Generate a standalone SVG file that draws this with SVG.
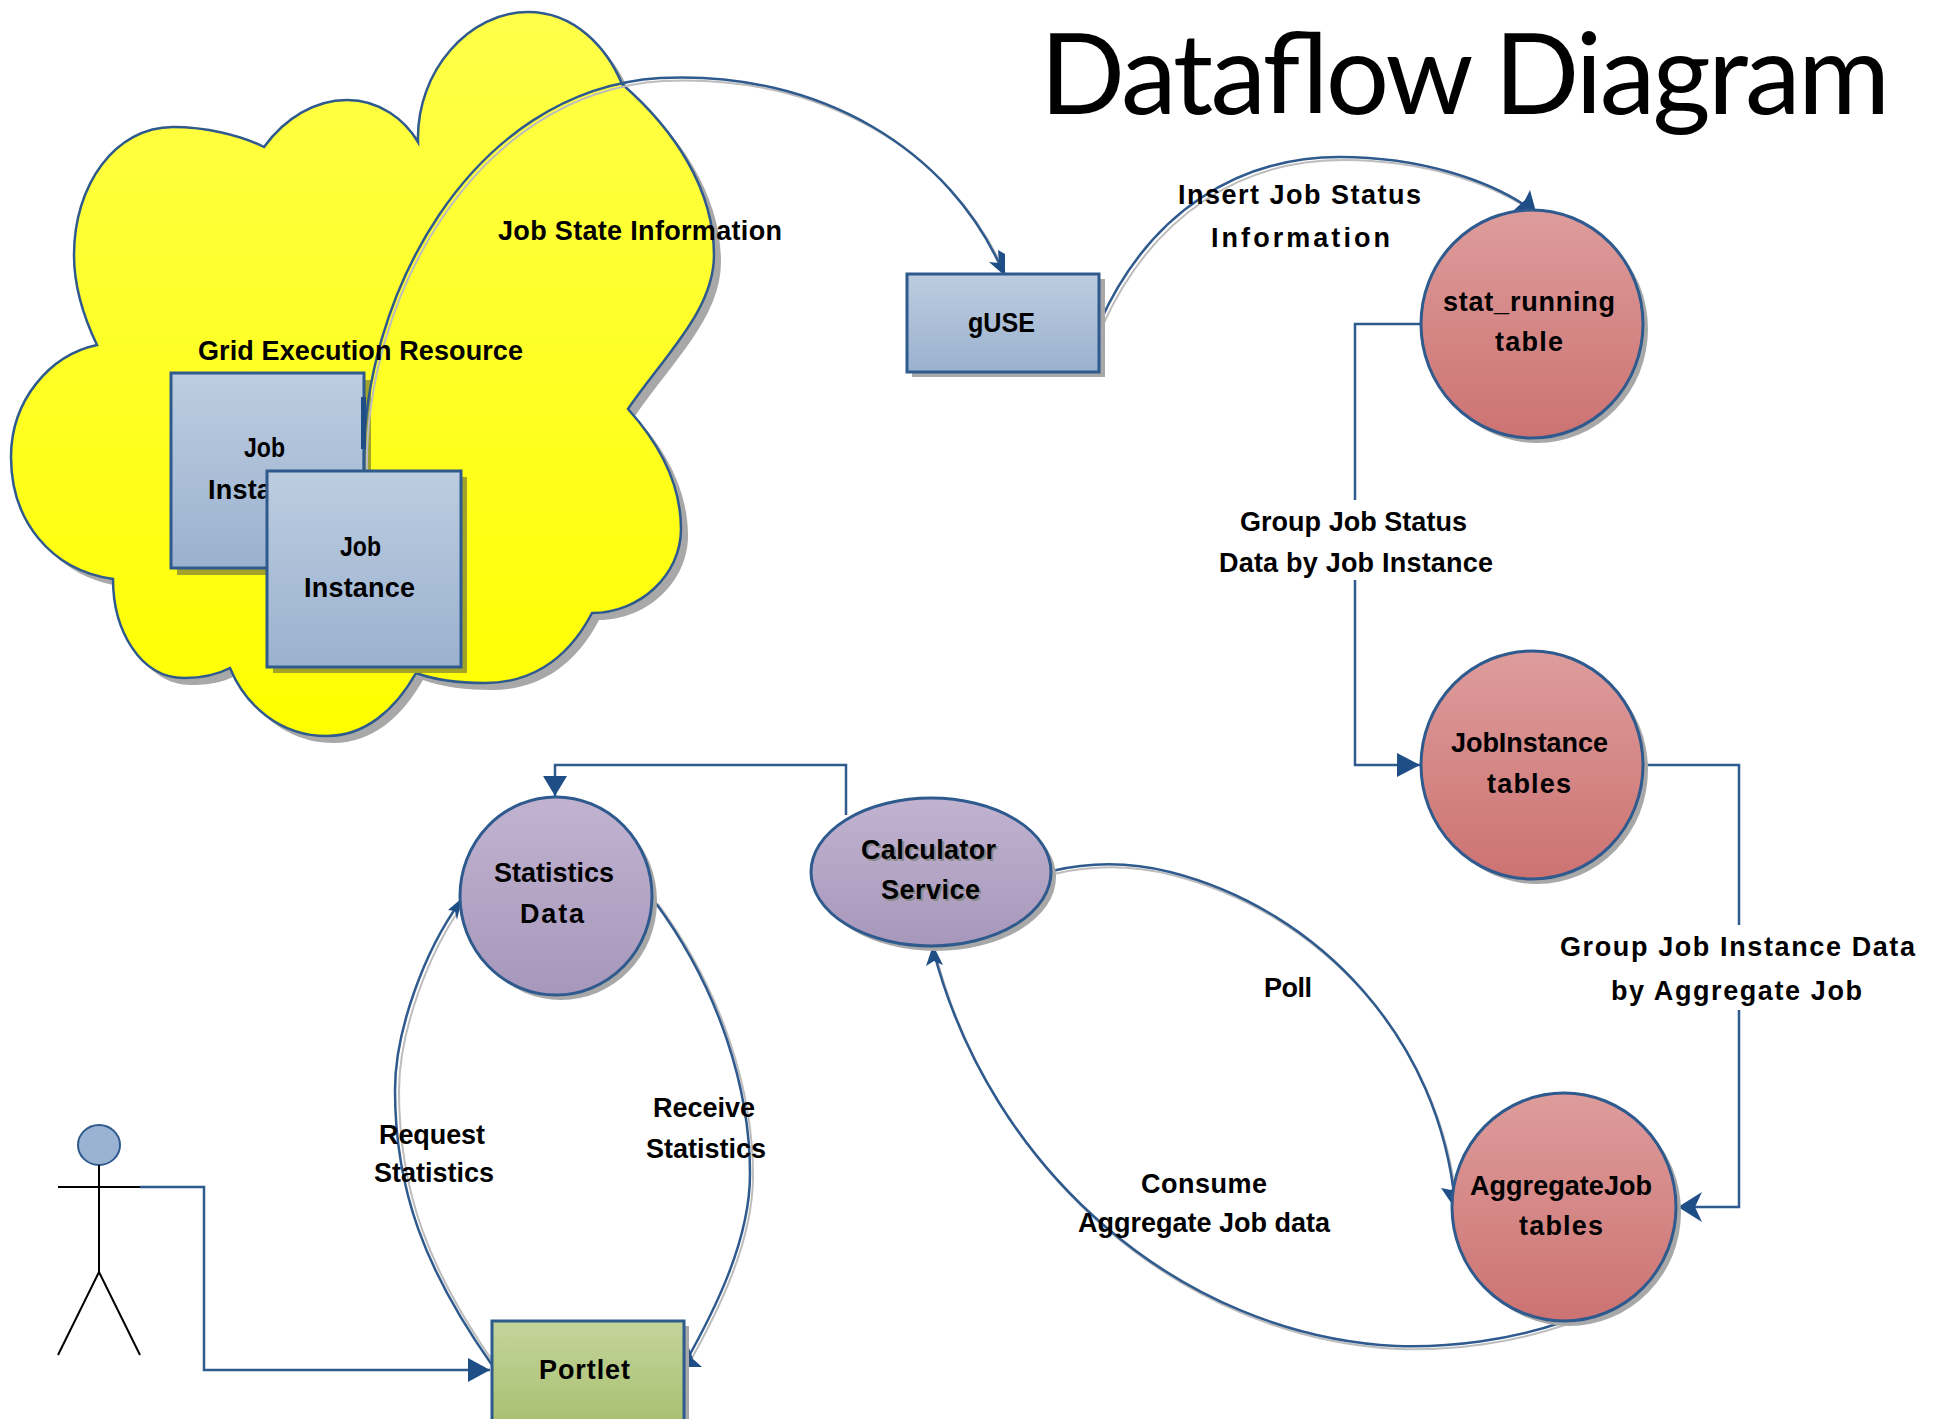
<svg xmlns="http://www.w3.org/2000/svg" width="1937" height="1419" viewBox="0 0 1937 1419">
<style>
text{font-family:"Liberation Sans",Arial,sans-serif;font-weight:700;font-size:27px;fill:#000}
.title{font-family:Lato,"Open Sans",sans-serif;font-weight:400;font-size:112px}
.sh{fill:#a8a8a8;stroke:none}
.n{stroke:#2f5a8e;stroke-width:3}
.c{fill:none;stroke:#2f5a8e;stroke-width:2.5}
.cs{fill:none;stroke:#bdbdbd;stroke-width:2}
.a{fill:#1f4e86;stroke:none}
.act{fill:none;stroke:#000;stroke-width:2}
</style>
<defs>
<linearGradient id="gy" x1="0" y1="0" x2="0" y2="1"><stop offset="0" stop-color="#ffff4a"/><stop offset="1" stop-color="#ffff00"/></linearGradient>
<linearGradient id="gb" x1="0" y1="0" x2="0" y2="1"><stop offset="0" stop-color="#bdcde0"/><stop offset="1" stop-color="#9ab1cf"/></linearGradient>
<linearGradient id="gr" x1="0" y1="0" x2="0" y2="1"><stop offset="0" stop-color="#dd9c9b"/><stop offset="1" stop-color="#cc7372"/></linearGradient>
<linearGradient id="gp" x1="0" y1="0" x2="0" y2="1"><stop offset="0" stop-color="#c1b3d0"/><stop offset="1" stop-color="#a797bb"/></linearGradient>
<linearGradient id="gg" x1="0" y1="0" x2="0" y2="1"><stop offset="0" stop-color="#c3d49b"/><stop offset="1" stop-color="#a9c070"/></linearGradient>
<path id="cl" d="M418 142C416 70 470 12 528 12C575 12 607 48 622 84C675 130 714 190 714 255C714 310 665 355 628 409C665 450 681 490 681 529C681 575 640 613 592 613C565 665 525 683 485 683C460 683 435 680 416 673C395 710 365 736 327 736C280 736 245 705 230 668C215 676 200 678 184 678C140 678 113 630 113 579C50 570 11 520 11 457C11 400 50 355 97 345C85 320 74 290 74 255C74 185 115 127 173 127C205 127 240 135 264 147C285 118 315 100 347 100C380 100 405 120 418 142Z"/>
<path id="c1" d="M364 470C360 300 470 90 660 78C820 70 950 150 1003 272"/>
<path id="c2" d="M1099 324C1150 210 1240 157 1340 157C1420 157 1490 180 1532 210"/>
<path id="c5" d="M1052 871C1090 862 1130 862 1170 872C1320 910 1440 1040 1455 1204"/>
<path id="c6" d="M1563 1322C1510 1340 1450 1348 1396 1346C1180 1335 990 1170 933 949"/>
<path id="c8" d="M492 1365C425 1270 395 1190 395 1090C395 1030 425 950 460 902"/>
<path id="c9" d="M655 902C720 990 750 1090 750 1174C750 1240 715 1310 684 1365"/>
</defs>
<g id="cloud">
<use href="#cl" class="sh" x="7" y="7"/>
<use href="#cl" fill="url(#gy)" stroke="#2f5a8e" stroke-width="2.5"/>
</g>
<g id="job-instance-back">
<rect class="sh" x="177" y="380" width="194" height="195" style="fill:#a3a32a"/>
<rect class="n" x="171" y="373" width="193" height="195" fill="url(#gb)"/>
<text x="244" y="457" textLength="41" lengthAdjust="spacingAndGlyphs">Job</text>
<text x="208" y="499" textLength="111">Instance</text>
</g>
<g id="connectors">
<use href="#c1" class="cs" x="3" y="3"/><use href="#c2" class="cs" x="3" y="3"/><use href="#c5" class="cs" x="2" y="3"/><use href="#c6" class="cs" x="2" y="3"/><use href="#c8" class="cs" x="4" y="1"/><use href="#c9" class="cs" x="3" y="2"/>
<use href="#c1" class="c"/><use href="#c2" class="c"/><use href="#c5" class="c"/><use href="#c6" class="c"/><use href="#c8" class="c"/><use href="#c9" class="c"/>
<path class="c" d="M1421 324H1355V765H1420"/>
<path class="c" d="M1644 765H1739V1207H1680"/>
<path class="c" d="M846 815V765H555V797"/>
<path class="c" d="M140 1187H204V1370H490"/>
<path class="a" d="M361 397h5v52h-5z"/>
<path class="a" d="M1005 276L989 262L999 263L998 250L1005 254Z"/>
<path class="a" d="M1536 212L1514 210L1525 200L1530 190Z"/>
<path class="a" d="M1420 765L1397 753V777Z"/>
<path class="a" d="M1678 1207L1702 1192L1695 1207L1702 1222Z"/>
<path class="a" d="M1456 1210L1441 1188L1451 1190L1459 1182Z"/>
<path class="a" d="M933 945L926 966L934 961L943 965Z"/>
<path class="a" d="M555 796L543 776H567Z"/>
<path class="a" d="M462 898L448 910L455 911L457 920Z"/>
<path class="a" d="M490 1370L468 1358V1382Z"/>
<path class="a" d="M684 1367L688 1345L693 1359L702 1367Z"/>
</g>
<g id="job-instance-front">
<rect class="sh" x="273" y="477" width="194" height="196" style="fill:#a3a32a"/>
<rect class="n" x="267" y="471" width="194" height="196" fill="url(#gb)"/>
<text x="340" y="556" textLength="41" lengthAdjust="spacingAndGlyphs">Job</text>
<text x="304" y="597" textLength="111">Instance</text>
</g>
<g id="guse">
<rect class="sh" x="912" y="279" width="193" height="98"/>
<rect class="n" x="907" y="274" width="192" height="98" fill="url(#gb)"/>
<text x="968" y="332" textLength="67" lengthAdjust="spacingAndGlyphs">gUSE</text>
</g>
<g id="stat-running">
<ellipse class="sh" cx="1537" cy="329" rx="111" ry="114"/>
<ellipse class="n" cx="1532" cy="324" rx="111" ry="114" fill="url(#gr)"/>
<text x="1443" y="311" textLength="172">stat_running</text>
<text x="1495" y="351" textLength="68">table</text>
</g>
<g id="jobinstance">
<ellipse class="sh" cx="1537" cy="770" rx="111" ry="114"/>
<ellipse class="n" cx="1532" cy="765" rx="111" ry="114" fill="url(#gr)"/>
<text x="1451" y="752" textLength="157">JobInstance</text>
<text x="1487" y="793" textLength="84">tables</text>
</g>
<g id="aggregatejob">
<ellipse class="sh" cx="1569" cy="1212" rx="112" ry="114"/>
<ellipse class="n" cx="1564" cy="1207" rx="112" ry="114" fill="url(#gr)"/>
<text x="1470" y="1195" textLength="182">AggregateJob</text>
<text x="1519" y="1235" textLength="84">tables</text>
</g>
<g id="statistics-data">
<ellipse class="sh" cx="561" cy="901" rx="96" ry="99"/>
<ellipse class="n" cx="556" cy="896" rx="96" ry="99" fill="url(#gp)"/>
<text x="494" y="882" textLength="120">Statistics</text>
<text x="520" y="923" textLength="64">Data</text>
</g>
<g id="calculator-service">
<ellipse class="sh" cx="936" cy="877" rx="120" ry="74"/>
<ellipse class="n" cx="931" cy="872" rx="120" ry="74" fill="url(#gp)"/>
<text x="863" y="861" textLength="135" style="fill:#8a8a8a">Calculator</text>
<text x="883" y="901" textLength="99" style="fill:#8a8a8a">Service</text>
<text x="861" y="859" textLength="135">Calculator</text>
<text x="881" y="899" textLength="99">Service</text>
</g>
<g id="portlet">
<rect class="sh" x="497" y="1326" width="192" height="100"/>
<rect class="n" x="492" y="1321" width="192" height="105" fill="url(#gg)"/>
<text x="539" y="1379" textLength="91">Portlet</text>
</g>
<g id="actor">
<ellipse cx="99" cy="1145" rx="21" ry="20" fill="#9ab3d3" stroke="#2f5a8e" stroke-width="2"/>
<path class="act" d="M99 1165V1272M58 1187H140M58 1355L99 1272L140 1355"/>
</g>
<g id="labels">
<rect x="1210" y="500" width="290" height="80" fill="#fff"/>
<rect x="1555" y="925" width="365" height="85" fill="#fff"/>
<text x="498" y="240" textLength="284">Job State Information</text>
<text x="198" y="360" textLength="325">Grid Execution Resource</text>
<text x="1178" y="204" textLength="243">Insert Job Status</text>
<text x="1211" y="247" textLength="179">Information</text>
<text x="1240" y="531" textLength="227">Group Job Status</text>
<text x="1219" y="572" textLength="274">Data by Job Instance</text>
<text x="1560" y="956" textLength="355">Group Job Instance Data</text>
<text x="1611" y="1000" textLength="251">by Aggregate Job</text>
<text x="1264" y="997" textLength="48">Poll</text>
<text x="1141" y="1193" textLength="126">Consume</text>
<text x="1078" y="1232" textLength="252">Aggregate Job data</text>
<text x="379" y="1144" textLength="106">Request</text>
<text x="374" y="1182" textLength="120">Statistics</text>
<text x="653" y="1117" textLength="102">Receive</text>
<text x="646" y="1158" textLength="120">Statistics</text>
<text class="title" x="1040" y="114" textLength="850">Dataflow Diagram</text>
</g>
</svg>
